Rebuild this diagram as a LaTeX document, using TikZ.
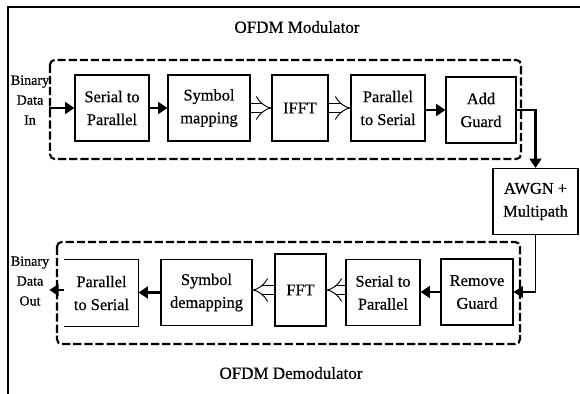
\documentclass[tikz,border=0pt]{standalone}
\usepackage{fontspec}
\setmainfont{Liberation Serif}[FakeBold=0.6]
\usetikzlibrary{arrows.meta, positioning}

\begin{document}
\begin{tikzpicture}[
    x=0.03cm, y=-0.03cm,
    blok/.style={rectangle, draw, line width=0.9pt, minimum height=1.98cm, align=center, inner sep=1pt, font=\fontsize{14}{19.5}\selectfont},
    sisi/.style={align=center, inner sep=0pt, font=\fontsize{12}{17}\selectfont},
    judul/.style={inner sep=0pt, font=\fontsize{14.5}{17}\selectfont},
    grup/.style={line width=1.8pt, dash pattern=on 7pt off 2.5pt, rounded corners=4pt},
    arrow/.style={line width=2pt, -{Triangle[length=8pt, width=10pt]}},
    tipis/.style={line width=0.9pt, -{Triangle[length=8pt, width=10pt]}},
    dobel/.style={double, double distance=6.5pt, line width=0.8pt, -{Implies[length=3.5pt, width=15pt]}}
]
\useasboundingbox (0,0) rectangle (580,394);

% ---- bingkai luar ----
\draw[line width=1.7pt] (8,394) -- (8,7) -- (580,7);

% ---- judul dan kotak putus-putus ----
\node[judul] (tmod) at (297,27)  {OFDM Modulator};
\node[judul] (tdem) at (291,373) {OFDM Demodulator};
\draw[grup] (50,60) rectangle (521,159);
\draw[grup] (57,242) rectangle (520,344);

% ---- baris modulator (y = 108) ----
\node[sisi] (din)  at (30,100) {Binary\\Data\\In};
\node[blok, minimum width=2.22cm] (s2p)  at (112,108) {Serial to\\Parallel};
\node[blok, minimum width=2.46cm] (smap) at (209,108) {Symbol\\mapping};
\node[blok, minimum width=1.68cm] (ifft) at (300,108) {IFFT};
\node[blok, minimum width=2.22cm] (p2s)  at (388,108) {Parallel\\to Serial};
\node[blok, minimum width=2.10cm] (addg) at (481,110) {Add\\Guard};

% ---- kanal ----
\node[blok, minimum width=2.55cm] (awgn) at (535.5,201.5) {AWGN +\\Multipath};

% ---- baris demodulator (y = 292) ----
\node[blok, minimum width=2.16cm] (remg) at (477,292)   {Remove\\Guard};
\node[blok, minimum width=2.22cm] (s2pd) at (383,292.5) {Serial to\\Parallel};
\node[blok, minimum width=1.53cm, minimum height=2.16cm] (fft) at (300.5,290) {FFT};
\node[blok, minimum width=2.73cm] (sdem) at (206.5,292.5) {Symbol\\demapping};
\node[blok, draw=none, minimum width=2.19cm] (p2sd) at (101.5,293) {Parallel\\to Serial};
\node[sisi] (dout) at (30,281) {Binary\\Data\\Out};
\draw[line width=0.9pt] (p2sd.north west) -- (p2sd.north east) -- (p2sd.south east) -- (p2sd.south west);

% ---- alur modulator ----
\draw[arrow] (din.east |- s2p) -- (s2p);
\draw[arrow] (s2p) -- (smap);
\draw[dobel] (smap) -- (ifft);
\draw[dobel] (ifft) -- (p2s);
\draw[arrow] (p2s.east |- addg) -- (addg);
\draw[arrow] (addg.east) -- (addg.east -| awgn) -- (awgn.north);

% ---- alur demodulator ----
\draw[tipis] (awgn.south) |- (remg.east);
\draw[arrow] (remg) -- (s2pd.east |- remg);
\draw[dobel] (s2pd.west |- fft) -- (fft.east);
\draw[dobel] (fft.west) -- (sdem.east |- fft);
\draw[arrow] (sdem) -- (p2sd.east |- sdem);
\draw[arrow] (p2sd.west |- dout.east) ++(0,9) coordinate (o1) (p2sd.west |- o1) -- (dout.east |- o1);

\end{tikzpicture}
\end{document}
